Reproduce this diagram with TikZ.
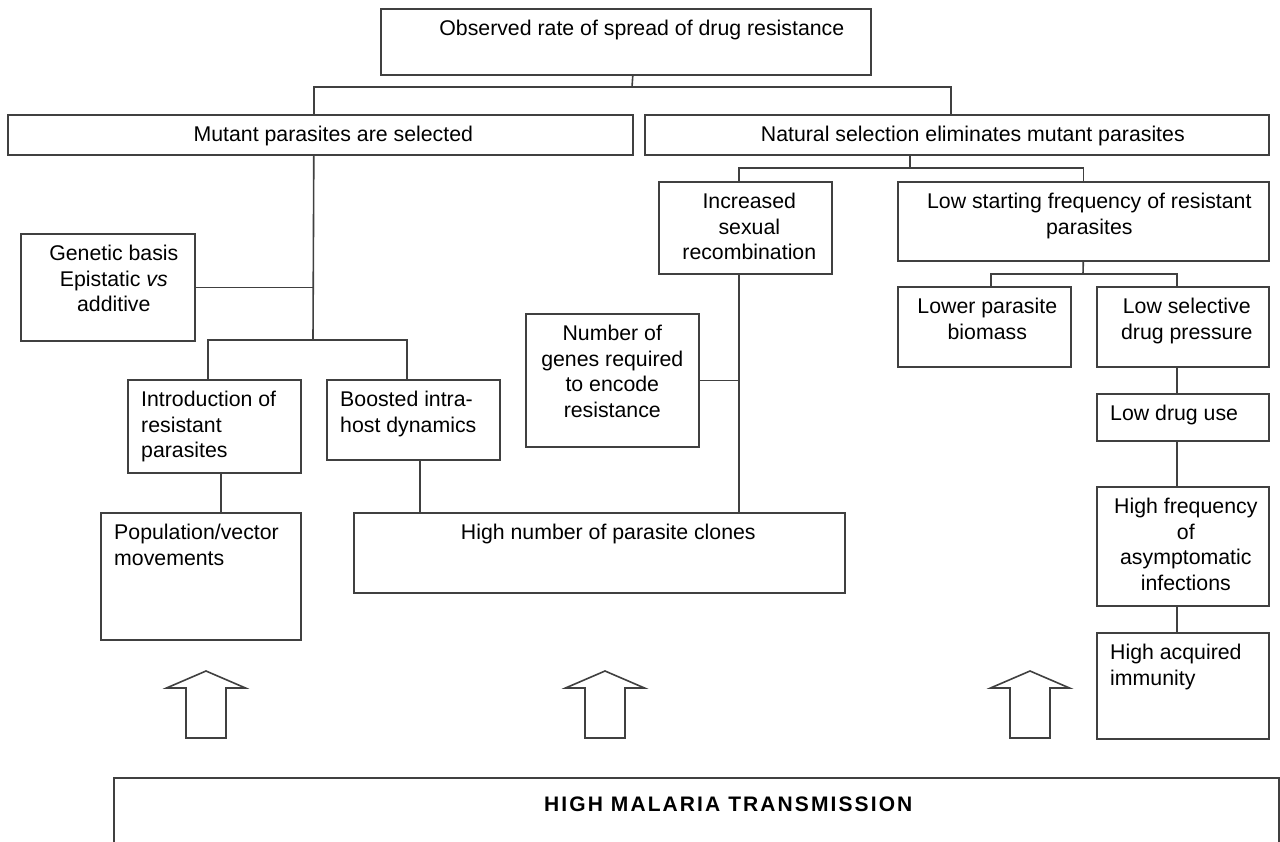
\documentclass[tikz,border=0pt]{standalone}
\usepackage{fontspec}
\setmainfont{Liberation Sans}
\newfontfamily\bannerfont{Liberation Sans}[LetterSpace=10]
\newcommand\boxfont{\fontsize{21.3}{25.5}\selectfont}
\tikzset{
  mal box/.style={draw=black!75, line width=1.6pt, inner sep=0pt, anchor=north west},
  mal link/.style={draw=black!75, line width=1.6pt},
  mal text/.style={anchor=north, align=center, inner sep=0pt, yshift=-12pt, font=\boxfont},
  mal left/.style={anchor=north west, align=left, inner sep=0pt, yshift=-12pt, xshift=14pt, font=\boxfont},
  mal arrow/.style={draw=black!75, line width=1.6pt, line join=miter},
}

\begin{document}
\begin{tikzpicture}[x=1pt, y=-1pt]
  \fill[white] (0,0) rectangle (1280,841);
  \useasboundingbox (0,0) rectangle (1280,841);

  % top of the tree
  \node[mal box, minimum width=490pt, minimum height=66pt,
    label={[mal text, xshift=16pt]north:Observed rate of spread of drug resistance}] (obs) at (380,8) {};
  \node[mal box, minimum width=625pt, minimum height=40pt,
    label={[mal text, xshift=13pt]north:Mutant parasites are selected}] (mut) at (7,114) {};
  \node[mal box, minimum width=624pt, minimum height=40pt,
    label={[mal text, xshift=16pt]north:Natural selection eliminates mutant parasites}] (nat) at (644,114) {};

  % left branch
  \node[mal box, minimum width=174pt, minimum height=107pt,
    label={[mal text, xshift=6pt]north:{Genetic basis\\Epistatic \textit{vs}\\additive}}] (gen) at (20,233) {};
  \node[mal box, minimum width=173pt, minimum height=93pt,
    label={[mal left]north west:{Introduction of\\resistant\\parasites}}] (intro) at (127,379) {};
  \node[mal box, minimum width=173pt, minimum height=80pt,
    label={[mal left]north west:{Boosted intra-\\host dynamics}}] (boost) at (326,379) {};
  \node[mal box, minimum width=200pt, minimum height=127pt,
    label={[mal left]north west:{Population/vector\\movements}}] (pop) at (100,512) {};
  \node[mal box, minimum width=491pt, minimum height=80pt,
    label={[mal text, xshift=9pt]north:High number of parasite clones}] (clones) at (353,512) {};

  % right branch
  \node[mal box, minimum width=173pt, minimum height=133pt,
    label={[mal text]north:{Number of\\genes required\\to encode\\resistance}}] (genes) at (525,313) {};
  \node[mal box, minimum width=173pt, minimum height=92pt,
    label={[mal text, xshift=4pt]north:{Increased\\sexual\\recombination}}] (incr) at (658,181) {};
  \node[mal box, minimum width=371pt, minimum height=79pt,
    label={[mal text, xshift=6pt]north:{Low starting frequency of resistant\\parasites}}] (low) at (897,181) {};
  \node[mal box, minimum width=173pt, minimum height=80pt,
    label={[mal text, xshift=3pt]north:{Lower parasite\\biomass}}] (biomass) at (897,286) {};
  \node[mal box, minimum width=172pt, minimum height=80pt,
    label={[mal text, xshift=4pt]north:{Low selective\\drug pressure}}] (select) at (1096,286) {};
  \node[mal box, minimum width=172pt, minimum height=47pt,
    label={[mal left]north west:Low drug use}] (druguse) at (1096,393) {};
  \node[mal box, minimum width=172pt, minimum height=119pt,
    label={[mal text, xshift=3pt]north:{High frequency\\of\\asymptomatic\\infections}}] (freq) at (1096,486) {};
  \node[mal box, minimum width=172pt, minimum height=106pt,
    label={[mal left]north west:{High acquired\\immunity}}] (immun) at (1096,632) {};

  % bottom banner
  \node[mal box, minimum width=1165pt, minimum height=90pt,
    label={[mal text, xshift=32pt, yshift=-8pt, font=\bannerfont\bfseries\fontsize{21}{25}\selectfont]north:HIGH MALARIA TRANSMISSION}] (malaria) at (113,777) {};

  % junctions
  \coordinate (jTop) at (632,87);
  \coordinate (jNat) at (910,168);
  \coordinate (jMut) at (313,340);
  \coordinate (jLow) at (1083,274);
  \coordinate (jIncr) at ([xshift=-6.5pt]incr.south);

  % links
  \draw[mal link] ([xshift=7pt]obs.south) -- (jTop);
  \draw[mal link] ([xshift=-6.5pt]mut.north) |- (jTop) -| ([xshift=-6pt]nat.north);
  \draw[mal link] ([xshift=-6.5pt]mut.south) -- (jMut);
  \draw[mal link] (gen.east) -- (gen.east -| jMut);
  \draw[mal link] ([xshift=-6.5pt]intro.north) |- (jMut) -| ([xshift=-6.5pt]boost.north);
  \draw[mal link] ([xshift=6.5pt]intro.south) -- ([xshift=6.5pt]intro.south |- pop.north);
  \draw[mal link] ([xshift=6.5pt]boost.south) -- ([xshift=6.5pt]boost.south |- clones.north);
  \draw[mal link] (nat.south -| jNat) -- (jNat);
  \draw[mal link] ([xshift=-6.5pt]incr.north) |- (jNat) -| (low.north);
  \draw[mal link] (jIncr) -- (jIncr |- clones.north);
  \draw[mal link] (genes.east) -- (genes.east -| jIncr);
  \draw[mal link] (low.south) -- (jLow);
  \draw[mal link] ([xshift=6.5pt]biomass.north) |- (jLow) -| ([xshift=-6pt]select.north);
  \draw[mal link] ([xshift=-6pt]select.south) -- ([xshift=-6pt]druguse.north);
  \draw[mal link] ([xshift=-6pt]druguse.south) -- ([xshift=-6pt]freq.north);
  \draw[mal link] ([xshift=-6pt]freq.south) -- ([xshift=-6pt]immun.north);

  % hollow arrows
  \foreach \ax in {206,605,1030} {
    \draw[mal arrow] (\ax,671) -- (\ax+39.5,688) -- (\ax+20,688) -- (\ax+20,738)
      -- (\ax-20,738) -- (\ax-20,688) -- (\ax-39.5,688) -- cycle;
  }
\end{tikzpicture}
\end{document}
